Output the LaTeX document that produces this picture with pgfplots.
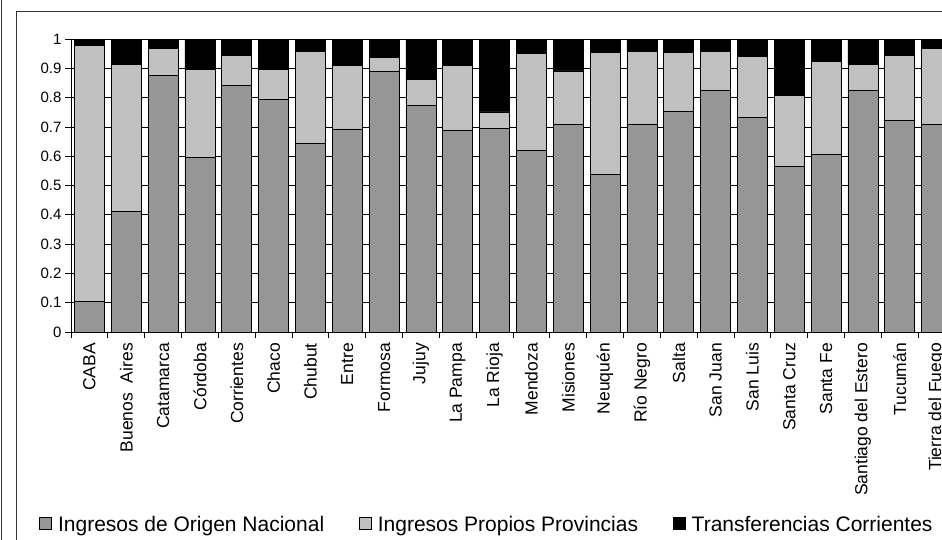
\documentclass[border=0pt]{standalone}
\usepackage{pgfplots}
\pgfplotsset{compat=1.18}
\usepackage{pgfplotstable}
\usepackage{fontspec}
\setmainfont{Liberation Sans}
\definecolor{nac}{RGB}{150,150,150}
\definecolor{prop}{RGB}{192,192,192}
\pgfplotsset{sqlegend/.style={legend image code/.code={\draw[##1,line width=0.6pt] (0pt,-4pt) rectangle (12pt,8pt);}}}
\pgfplotstableread{
x nac prop trans
0 0.105 0.872 0.023
1 0.411 0.503 0.086
2 0.877 0.091 0.032
3 0.595 0.300 0.105
4 0.840 0.105 0.055
5 0.795 0.100 0.105
6 0.642 0.317 0.041
7 0.693 0.216 0.091
8 0.889 0.047 0.064
9 0.772 0.090 0.138
10 0.689 0.220 0.091
11 0.694 0.057 0.249
12 0.619 0.331 0.050
13 0.707 0.184 0.109
14 0.538 0.417 0.045
15 0.710 0.249 0.041
16 0.752 0.203 0.045
17 0.824 0.135 0.041
18 0.731 0.210 0.059
19 0.565 0.241 0.194
20 0.606 0.317 0.077
21 0.824 0.090 0.086
22 0.722 0.223 0.055
23 0.707 0.261 0.032
}\data
\begin{document}
\begin{tikzpicture}[x=1pt,y=1pt]
\path[use as bounding box] (0,0) rectangle (942,539);
\clip (0,0) rectangle (942,539);
\draw[line width=1pt,black!80] (1.5,-5) -- (1.5,545);
\draw[line width=1pt,black!80] (16.5,-20) -- (16.5,527.5) -- (980,527.5);
\begin{axis}[
  at={(71pt,207pt)}, anchor=south west,
  scale only axis, width=884pt, height=293pt,
  ybar stacked, bar width=0.815,
  xmin=-0.5, xmax=23.5, ymin=0, ymax=1,
  axis x line*=bottom, axis y line*=left,
  axis line style={line width=0.9pt,black},
  xtick={-0.5,0.5,...,23.5}, xticklabels={},
  extra x ticks={0,1,...,23},
  extra x tick labels={CABA,Buenos\ \ Aires,Catamarca,Córdoba,Corrientes,Chaco,Chubut,Entre,Formosa,Jujuy,La Pampa,La Rioja,Mendoza,Misiones,Neuquén,Río Negro,Salta,San Juan,San Luis,Santa Cruz,Santa Fe,Santiago del Estero,Tucumán,Tierra del Fuego},
  extra x tick style={major tick length=0pt, grid=none},
  xticklabel style={rotate=90, anchor=east, font=\fontsize{17.5}{20}\selectfont, xshift=-11pt, inner sep=0pt},
  ytick={0,0.1,0.2,0.3,0.4,0.5,0.6,0.7,0.8,0.9,1},
  yticklabel style={font=\fontsize{15}{17}\selectfont, /pgf/number format/fixed, /pgf/number format/precision=1},
  /pgf/number format/assume math mode=true,
  tick align=outside, major tick length=6pt,
  tick style={line width=0.8pt,black},
  ymajorgrids, grid style={line width=0.8pt,black},
  legend columns=3,
  legend style={at={(0.4706,-0.659)}, anchor=center, draw=none, fill=none,
    font=\fontsize{21}{24}\selectfont, inner sep=0pt,
    /tikz/every odd column/.append style={column sep=4pt},
    /tikz/every even column/.append style={column sep=33pt}},
]
\addplot[sqlegend, fill=nac, draw=black, line width=0.8pt] table[x=x,y=nac]{\data};
\addplot[sqlegend, fill=prop, draw=black, line width=0.8pt] table[x=x,y=prop]{\data};
\addplot[sqlegend, fill=black, draw=black, line width=0.8pt] table[x=x,y=trans]{\data};
\legend{Ingresos de Origen Nacional,Ingresos Propios Provincias,Transferencias Corrientes}
\end{axis}
\end{tikzpicture}
\end{document}
